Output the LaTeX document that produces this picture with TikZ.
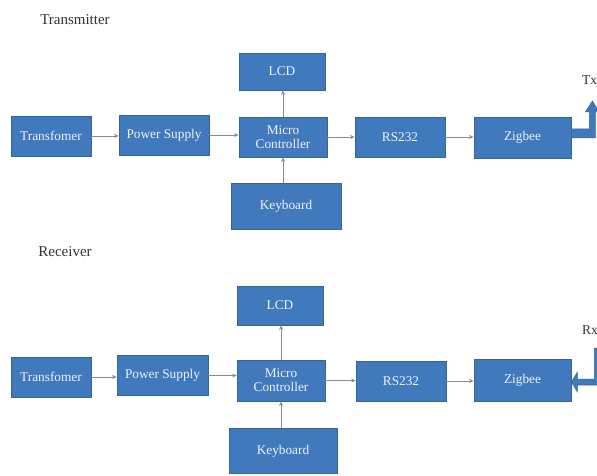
\documentclass[tikz,border=0pt]{standalone}
\usepackage{fontspec}
\setmainfont{Liberation Serif}
\usetikzlibrary{arrows.meta}
\definecolor{boxblue}{HTML}{4179BD}
\definecolor{boxedge}{HTML}{35649C}
\definecolor{linegray}{HTML}{7F8C9C}
\definecolor{boxtext}{HTML}{EEF2F8}
\definecolor{labeltext}{HTML}{333333}
\begin{document}
\begin{tikzpicture}[x=1pt,y=-1pt,
  blk/.style={draw=boxedge,line width=0.8pt,fill=boxblue,text=boxtext,
    inner sep=0pt,align=center,font=\fontsize{13.3}{14}\selectfont},
  conn/.style={draw=linegray,line width=0.8pt,-{Stealth[length=4.5pt,width=4pt]}},
  head/.style={text=labeltext,font=\fontsize{15}{17}\selectfont,inner sep=0pt},
  ant/.style={fill=boxblue,draw=boxedge,line width=0.5pt}]
\useasboundingbox (0,0) rectangle (597,476);
\fill[white] (0,0) rectangle (597,476);

% ---------- Transmitter ----------
\node[head] (ttitle) at (75,20) {Transmitter};
\node[blk,minimum width=80pt,minimum height=40pt] (t1) at (51,136) {Transfomer};
\node[blk,minimum width=90pt,minimum height=40pt] (t2) at (164,135) {Power Supply};
\node[blk,minimum width=86pt,minimum height=37pt] (tlcd) at (282,71.5) {LCD};
\node[blk,minimum width=88pt,minimum height=40pt] (tmc) at (283,137) {Micro\\Controller};
\node[blk,minimum width=110pt,minimum height=46pt] (tkb) at (286,206) {Keyboard};
\node[blk,minimum width=90pt,minimum height=40pt] (trs) at (400,137) {RS232};
\node[blk,minimum width=97pt,minimum height=41pt] (tzb) at (522.5,137.5) {Zigbee};
\node[head,anchor=west,font=\fontsize{13.5}{15}\selectfont] (tx) at (582,80) {Tx};

\draw[conn] (t1.east) -- (t1.east -| t2.west);
\draw[conn] (t2.east) -- (t2.east -| tmc.west);
\draw[conn] (tmc.east) -- (tmc.east -| trs.west);
\draw[conn] (trs.east) -- (trs.east -| tzb.west);
\draw[conn] (tmc.north) -- (tmc.north |- tlcd.south);
\draw[conn] (tmc.south |- tkb.north) -- (tmc.south);

\coordinate (ta) at ([yshift=8.5pt]tzb.east);
\path[ant] (ta) -- ++(18,0) -- ++(0,-17) -- ++(-4,0) -- ++(7,-11) -- ++(7,11)
  -- ++(-4,0) -- ++(0,26) -- ++(-24,0) -- cycle;

% ---------- Receiver ----------
\node[head] (rtitle) at (65,252) {Receiver};
\node[blk,minimum width=80pt,minimum height=40pt] (r1) at (51,377) {Transfomer};
\node[blk,minimum width=91pt,minimum height=40pt] (r2) at (162.5,375.5) {Power Supply};
\node[blk,minimum width=86pt,minimum height=39pt] (rlcd) at (280,305.5) {LCD};
\node[blk,minimum width=88pt,minimum height=41pt] (rmc) at (281,380.5) {Micro\\Controller};
\node[blk,minimum width=108pt,minimum height=45pt] (rkb) at (283,451) {Keyboard};
\node[blk,minimum width=90pt,minimum height=40pt] (rrs) at (401,381) {RS232};
\node[blk,minimum width=97pt,minimum height=42pt] (rzb) at (522.5,380) {Zigbee};
\node[head,anchor=west,font=\fontsize{13.5}{15}\selectfont] (rx) at (582,330) {Rx};

\draw[conn] (r1.east) -- (r1.east -| r2.west);
\draw[conn] (r2.east) -- (r2.east -| rmc.west);
\draw[conn] (rmc.east) -- (rmc.east -| rrs.west);
\draw[conn] (rrs.east) -- (rrs.east -| rzb.west);
\draw[conn] (rmc.north) -- (rmc.north |- rlcd.south);
\draw[conn] (rmc.south |- rkb.north) -- (rmc.south);

\coordinate (ra) at ([yshift=-2pt]rzb.east);
\path[ant] (ra) -- ++(6,-10) -- ++(0,7) -- ++(17,0) -- ++(0,-31) -- ++(6,0)
  -- ++(0,37) -- ++(-23,0) -- ++(0,7) -- cycle;
\end{tikzpicture}
\end{document}
